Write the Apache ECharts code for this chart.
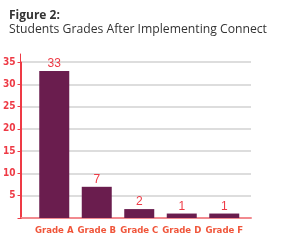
<!DOCTYPE html>
<html><head><meta charset="utf-8">
<script src="https://cdn.jsdelivr.net/npm/echarts@6/dist/echarts.min.js"></script>
<style>html,body{margin:0;padding:0;background:#fff}#c{width:281px;height:247px}</style>
</head><body><div id="c"></div>
<script>
const categories = ['Grade A','Grade B','Grade C','Grade D','Grade F'];
const students = [33, 7, 2, 1, 1];
const yTicks = [5, 10, 15, 20, 25, 30, 35];

const chart = echarts.init(document.getElementById('c'), null, {renderer:'canvas'});
const red = '#ee3a45';
const lblFont = '"Liberation Sans Narrow", "DejaVu Sans Condensed", "Roboto", sans-serif';
chart.setOption({
  animation:false,
  title:[
    {text:'Figure 2:', left:4, top:5, textStyle:{fontFamily:'"Open Sans", sans-serif', fontWeight:'bold', fontSize:12, color:'#333'}},
    {text:'Students Grades After Implementing Connect', left:4, top:19, textStyle:{fontFamily:'"Open Sans", sans-serif', fontWeight:'normal', fontSize:12.2, color:'#333'}}
  ],
  grid:[
    {left:20, right:30, top:62, bottom:29},
    {left:33, right:35.5, top:62, bottom:29},
    {left:20, right:30, top:54, bottom:29}
  ],
  xAxis:[
    {gridIndex:0, type:'category', data:categories, axisLine:{lineStyle:{color:'#f28a8f', width:2}}, axisTick:{show:false}, axisLabel:{show:false}},
    {gridIndex:1, type:'category', data:categories, axisLine:{show:false}, axisTick:{show:false},
     axisLabel:{interval:0, color:'#f0553a', fontFamily:lblFont, fontWeight:'bold', fontSize:9.5, margin:8}},
    {gridIndex:2, type:'category', data:categories, show:false}
  ],
  yAxis:[
    {gridIndex:0, type:'value', min:0, max:35, interval:5,
     axisLine:{show:true, lineStyle:{color:red, width:1}},
     axisTick:{show:true, length:4, lineStyle:{color:red}},
     splitLine:{lineStyle:{color:'#d2d2d2', width:1.5}},
     axisLabel:{color:red, fontFamily:lblFont, fontWeight:'bold', fontSize:10, margin:6,
       formatter:function(v){return yTicks.indexOf(v)>=0 ? String(v) : '';}}},
    {gridIndex:1, type:'value', min:0, max:35, show:false},
    {gridIndex:2, type:'value', min:0, max:1, axisLine:{show:true, lineStyle:{color:red, width:1}},
     axisTick:{show:false}, axisLabel:{show:false}, splitLine:{show:false}}
  ],
  series:[{
    type:'bar', xAxisIndex:1, yAxisIndex:1, data:students, barWidth:30,
    itemStyle:{color:'#6a1d4e'},
    label:{show:true, position:'top', distance:1, color:red, fontFamily:'"Liberation Sans", Arial, sans-serif', fontSize:12}
  }]
});
</script></body></html>
